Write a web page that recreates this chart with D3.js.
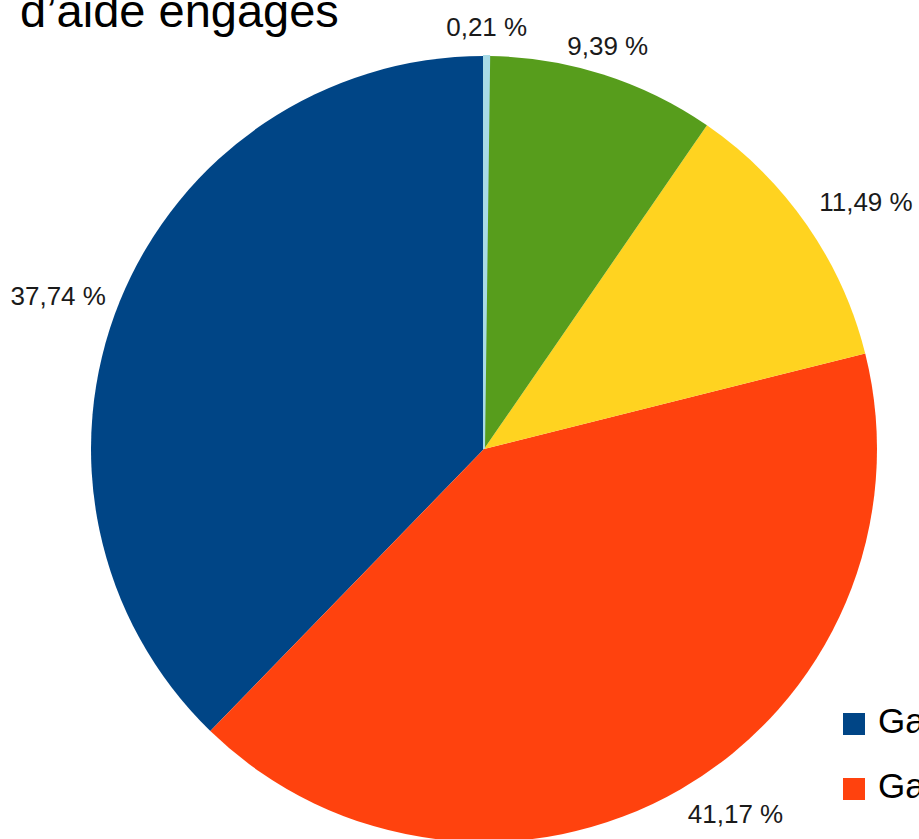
<!DOCTYPE html>
<html>
<head>
<meta charset="utf-8">
<script src="https://cdn.jsdelivr.net/npm/d3@7"></script>
<style>
  body { margin: 0; overflow: hidden; background: #fff; }
</style>
</head>
<body>
<svg id="pieChart"></svg>
<script>
// Data (legend order, as the chart software stores it)
const categories = ["Garanties d'emprunts", "Garanties de prêts", "Subventions", "Avances remboursables", "Autres"];
const values = [37.74, 41.17, 11.49, 9.39, 0.21];
const colors = ["#004586", "#ff420e", "#ffd320", "#579d1c", "#a8dbe6"];
const titleText = "d\u2019aide engagés";

// Set dimensions
const width = 919, height = 839;
const cx = 484, cy = 449, radius = 393;

const svg = d3.select("#pieChart")
    .attr("width", width)
    .attr("height", height);

// Title (only the last line is in view)
svg.append("text")
    .attr("x", 20)
    .attr("y", 27)
    .style("font-family", "Liberation Sans, Arial, sans-serif")
    .style("font-size", "47px")
    .text(titleText);

// Pie goes counter-clockwise from 12 o'clock
const pie = d3.pie()
    .sort(null)
    .value(d => d)
    .startAngle(0)
    .endAngle(-2 * Math.PI);

const arc = d3.arc()
    .innerRadius(0)
    .outerRadius(radius);

const arcs = pie(values);

const g = svg.append("g")
    .attr("transform", `translate(${cx},${cy})`);

g.selectAll("path")
    .data(arcs)
    .enter().append("path")
    .attr("d", arc)
    .attr("fill", (d, i) => colors[i])
    .attr("stroke", (d, i) => i === 4 ? colors[i] : "none")
    .attr("stroke-width", 2);

// Labels outside the pie
const labelR = 408;
const fmt = v => v.toFixed(2).replace(".", ",") + " %";

g.selectAll(".label")
    .data(arcs)
    .enter().append("text")
    .attr("class", "label")
    .each(function(d) {
        const a = (d.startAngle + d.endAngle) / 2;
        const s = Math.sin(a), c = Math.cos(a);
        const x = labelR * s, y = -labelR * c;
        let anchor = "middle";
        if (s > 0.4) anchor = "start";
        if (s < -0.4) anchor = "end";
        let dy = 9;
        if (c > 0.5) dy = -5;
        if (c < -0.5) dy = 21;
        d3.select(this)
            .attr("x", x)
            .attr("y", y + dy)
            .attr("text-anchor", anchor);
    })
    .style("font-family", "Liberation Sans, Arial, sans-serif")
    .style("font-size", "26px")
    .style("fill", "#1a1a1a")
    .text(d => fmt(d.data));

// Legend (runs off the right edge)
const legend = svg.append("g")
    .attr("transform", "translate(843,713)");

const items = legend.selectAll("g")
    .data(categories)
    .enter().append("g")
    .attr("transform", (d, i) => `translate(0,${i * 65})`);

items.append("rect")
    .attr("width", 22)
    .attr("height", 22)
    .attr("fill", (d, i) => colors[i]);

items.append("text")
    .attr("x", 35)
    .attr("y", 20)
    .style("font-family", "Liberation Sans, Arial, sans-serif")
    .style("font-size", "35px")
    .text(d => d);
</script>
</body>
</html>
